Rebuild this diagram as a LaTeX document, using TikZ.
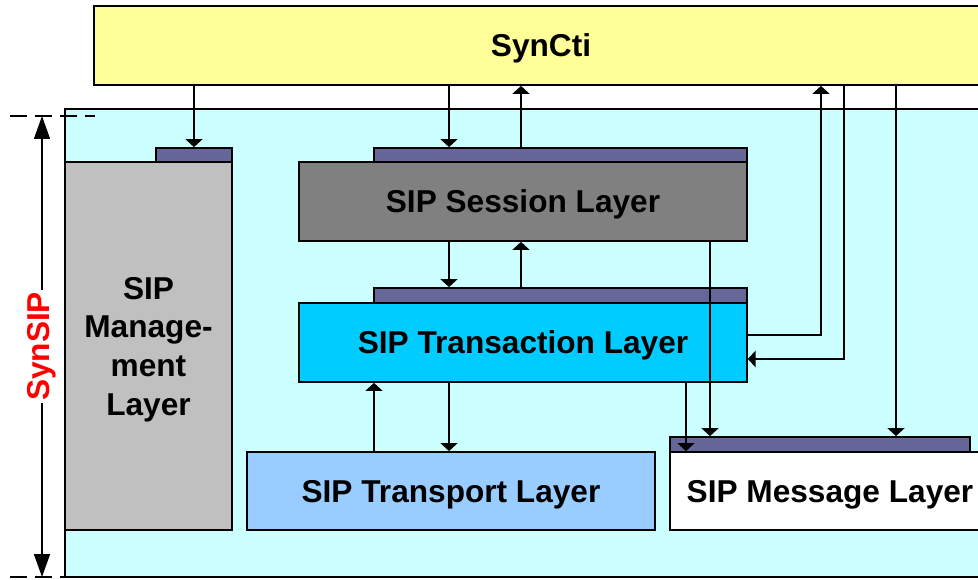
\documentclass[tikz,border=0pt]{standalone}
\usepackage{fontspec}
\setmainfont{Liberation Sans}
\usetikzlibrary{arrows.meta}
\definecolor{ctiyellow}{HTML}{FFFF99}
\definecolor{sipcyan}{HTML}{CCFFFF}
\definecolor{tabpurple}{HTML}{666699}
\definecolor{mgmtgray}{HTML}{C0C0C0}
\definecolor{sessgray}{HTML}{808080}
\definecolor{trancyan}{HTML}{00CCFF}
\definecolor{tportblue}{HTML}{99CCFF}
\begin{document}
\begin{tikzpicture}[x=0.02cm,y=-0.02cm,
  layer/.style={draw,line width=1pt,inner sep=0pt,text depth=0pt,align=center,font=\bfseries\fontsize{18}{22}\selectfont},
  tab/.style={draw,line width=1pt,fill=tabpurple,inner sep=0pt},
  arr/.style={line width=1pt,-{Triangle[width=9.5pt,length=4.5pt]}},
  dimline/.style={line width=0.7pt,dash pattern=on 0.34cm off 0.16cm}]
\useasboundingbox (0,0) rectangle (978,579);
% frames
\node[draw,line width=1pt,fill=sipcyan,minimum width=18.5cm,minimum height=9.36cm] (synsip) at (527.5,343) {};
\node[layer,fill=ctiyellow,minimum width=17.88cm,minimum height=1.58cm] (syncti) at (541,45.5) {SynCti};
% size of SynSIP
\coordinate (dtop) at (42,116);
\coordinate (dbot) at (42,577);
\draw[dimline] (10,116) -- (95,116);
\draw[dimline] (10,577) -- (65,577);
\draw[line width=1pt,{Triangle[width=9pt,length=13pt]}-{Triangle[width=9pt,length=13pt]}] (dtop) -- (dbot)
  node[midway,rotate=90,fill=white,text=red,inner sep=1pt,font=\bfseries\fontsize{18}{22}\selectfont] (synsiplbl) {SynSIP};
% layers
\node[tab,minimum width=1.52cm,minimum height=0.28cm] (mgmttab) at (194,155) {};
\node[layer,fill=mgmtgray,minimum width=3.34cm,minimum height=7.36cm] (mgmt) at (148.5,346) {SIP\\Manage-\\ment\\Layer};
\node[tab,minimum width=7.46cm,minimum height=0.28cm] (sesstab) at (560.5,155) {};
\node[layer,fill=sessgray,minimum width=8.96cm,minimum height=1.58cm] (sess) at (523,201.5) {SIP Session Layer};
\node[tab,minimum width=7.46cm,minimum height=0.3cm] (trantab) at (560.5,295.5) {};
\node[layer,fill=trancyan,minimum width=8.96cm,minimum height=1.58cm] (tran) at (523,342.5) {SIP Transaction Layer};
\node[layer,fill=tportblue,minimum width=8.16cm,minimum height=1.56cm] (tport) at (451,491) {SIP Transport Layer};
\node[tab,minimum width=6cm,minimum height=0.3cm] (msgtab) at (820,444.5) {};
\node[layer,fill=white,minimum width=6.4cm,minimum height=1.56cm] (msg) at (830,491) {SIP Message Layer};
% where the arrows run
\coordinate (xl) at (449,0);
\coordinate (xr) at (521,0);
\coordinate (xt) at (374,0);
\coordinate (xtm) at (686,0);
\coordinate (xsm) at (710,0);
\coordinate (xup) at (821,0);
\coordinate (xdn) at (844,0);
\coordinate (xmsg) at (896,0);
\coordinate (yout) at (0,335);
\coordinate (yin) at (0,359);
% arrows
\draw[arr] (syncti.south -| mgmttab) -- (mgmttab.north);
\draw[arr] (syncti.south -| xl) -- (sesstab.north -| xl);
\draw[arr] (sesstab.north -| xr) -- (syncti.south -| xr);
\draw[arr] (sess.south -| xl) -- (trantab.north -| xl);
\draw[arr] (trantab.north -| xr) -- (sess.south -| xr);
\draw[arr] (tran.south -| xl) -- (tport.north -| xl);
\draw[arr] (tport.north -| xt) -- (tran.south -| xt);
\draw[arr] (tran.east |- yout) -| (syncti.south -| xup);
\draw[arr] (syncti.south -| xdn) |- (tran.east |- yin);
\draw[arr] (syncti.south -| xmsg) -- (msgtab.north -| xmsg);
\draw[arr] (sess.south -| xsm) -- (msgtab.north -| xsm);
\draw[arr] (tran.south -| xtm) -- (msg.north -| xtm);
\end{tikzpicture}
\end{document}
